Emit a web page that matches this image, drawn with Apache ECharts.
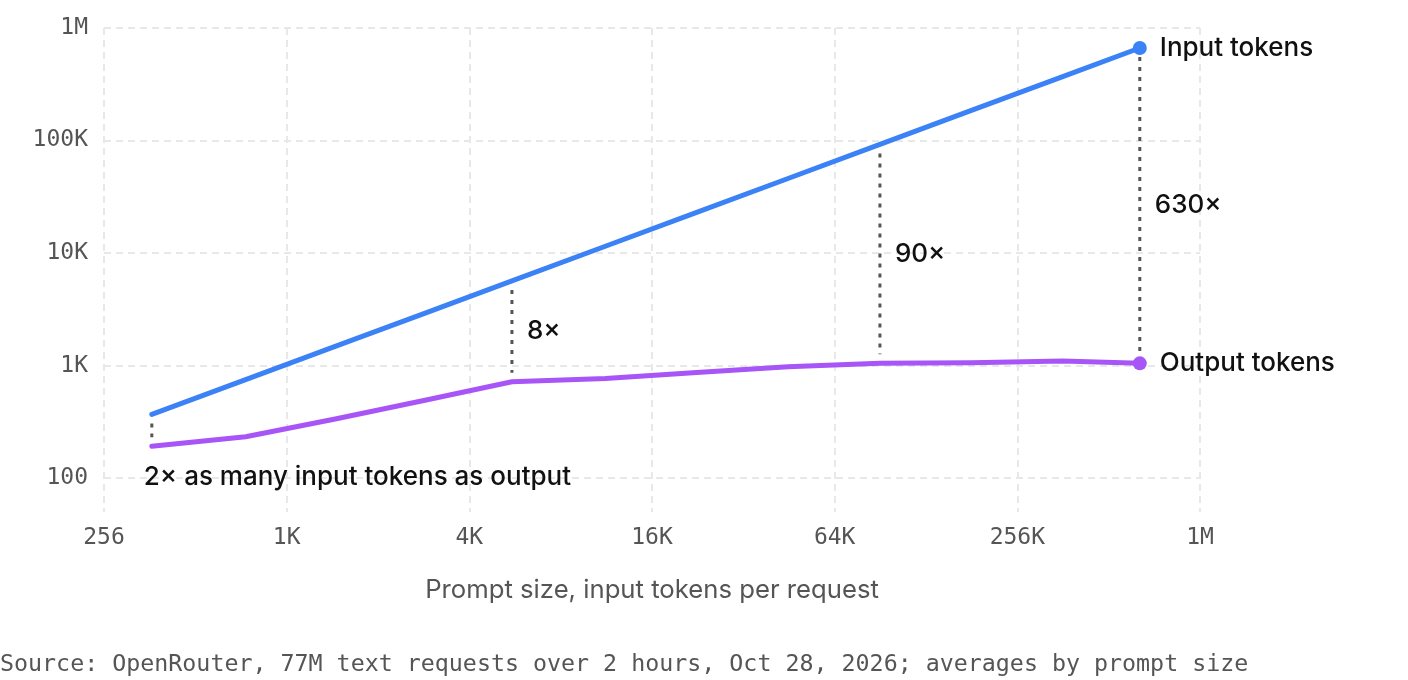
<!DOCTYPE html>
<html>
<head>
<meta charset="utf-8">
<script src="https://cdn.jsdelivr.net/npm/echarts@6/dist/echarts.min.js"></script>
<style>
  html, body { margin: 0; padding: 0; background: #fff; }
  #chart { width: 1408px; height: 680px; }
</style>
</head>
<body>
<div id="chart"></div>
<script>
// average prompt size per bin (x) and average tokens per request (y)
const promptSize = [368, 750, 1480, 2900, 5660, 11500, 23000, 46000, 92400, 185000, 370000, 664000]
const inputTokens = [368, 750, 1480, 2900, 5660, 11500, 23000, 46000, 92400, 185000, 370000, 664000]
const outputTokens = [192, 233, 335, 490, 718, 769, 869, 975, 1047, 1062, 1097, 1047]
const seriesNames = ['Input tokens', 'Output tokens']

// ratio call-outs, placed at these prompt sizes
const annoAt = [368, 5660, 92400, 664000]
const annoText = ['2× as many input tokens as output', '8×', '90×', '630×']

const xLabelName = 'Prompt size, input tokens per request'
const sourceText = 'Source: OpenRouter, 77M text requests over 2 hours, Oct 28, 2026; averages by prompt size'

const MONO = '"DejaVu Sans Mono", "Liberation Mono", monospace'
const SANS = 'Inter, "Noto Sans", sans-serif'
const BLUE = '#3b82f6'
const PURPLE = '#a855f7'
const last = promptSize.length - 1

const fmtBinary = (v) => {
  if (v >= 1048576) return Math.round(v / 1048576) + 'M'
  if (v >= 1024) return Math.round(v / 1024) + 'K'
  return String(Math.round(v))
}
const fmtDecimal = (v) => {
  if (v < 99) return ''
  if (v >= 999999) return Math.round(v / 1e6) + 'M'
  if (v >= 999) return Math.round(v / 1e3) + 'K'
  return String(Math.round(v))
}

const gridLine = { color: '#e8e8e8', width: 2, type: [7, 5] }

function lineSeries(name, values, color) {
  return {
    type: 'line',
    name,
    data: promptSize.map((x, i) => [x, values[i]]),
    symbol: 'circle',
    showSymbol: true,
    symbolSize: (v, p) => (p.dataIndex === last ? 14 : 0),
    lineStyle: { color, width: 5, cap: 'round', join: 'round' },
    itemStyle: { color },
    label: {
      show: true,
      position: 'right',
      distance: 13,
      formatter: (p) => (p.dataIndex === last ? p.seriesName : ''),
      fontFamily: SANS,
      fontSize: 26,
      fontWeight: 500,
      color: '#111',
    },
    silent: true,
    z: 3,
  }
}

// dotted connector between the two lines, with its ratio text
function renderConnector(params, api) {
  const x = api.value(0)
  const top = api.coord([x, api.value(1)])
  const bot = api.coord([x, api.value(2)])
  const gap = 9
  const y1 = top[1] + gap
  const y2 = bot[1] - gap
  const first = params.dataIndex === 0
  return {
    type: 'group',
    children: [
      {
        type: 'line',
        shape: { x1: top[0], y1, x2: top[0], y2 },
        style: { stroke: '#555', lineWidth: 3, lineDash: [4, 6] },
      },
      {
        type: 'text',
        x: first ? top[0] - 8 : top[0] + 15,
        y: first ? bot[1] + 31 : (y1 + y2) / 2,
        style: {
          text: annoText[params.dataIndex],
          font: '500 26px ' + SANS,
          fill: '#111',
          textAlign: 'left',
          textVerticalAlign: 'middle',
        },
      },
    ],
  }
}

const chart = echarts.init(document.getElementById('chart'))

chart.setOption({
  animation: false,
  backgroundColor: '#fff',
  title: {
    text: sourceText,
    left: 0,
    top: 653,
    padding: 0,
    textStyle: { fontFamily: MONO, fontSize: 23.3, fontWeight: 'normal', color: '#555' },
  },
  grid: { left: 104, right: 208, top: 28, bottom: 168 },
  xAxis: {
    type: 'log',
    logBase: 4,
    min: 256,
    max: 1048576,
    axisLine: { show: false },
    axisTick: { show: false },
    axisLabel: { margin: 15, fontFamily: MONO, fontSize: 23, color: '#555', formatter: fmtBinary },
    splitLine: { show: true, lineStyle: gridLine },
    name: xLabelName,
    nameLocation: 'middle',
    nameGap: 65,
    nameTextStyle: { fontFamily: SANS, fontSize: 25.7, color: '#555' },
  },
  yAxis: {
    type: 'log',
    logBase: 10,
    min: 50,
    max: 1000000,
    axisLine: { show: false },
    axisTick: { show: false },
    axisLabel: { margin: 16, fontFamily: MONO, fontSize: 23, color: '#555', formatter: fmtDecimal, showMinLabel: false },
    splitLine: { show: true, showMinLine: false, lineStyle: gridLine },
  },
  series: [
    lineSeries(seriesNames[0], inputTokens, BLUE),
    lineSeries(seriesNames[1], outputTokens, PURPLE),
    {
      type: 'custom',
      renderItem: renderConnector,
      data: annoAt.map((x) => {
        const i = promptSize.indexOf(x)
        return [x, inputTokens[i], outputTokens[i]]
      }),
      encode: { x: 0, y: [1, 2] },
      silent: true,
      z: 2,
    },
  ],
})
</script>
</body>
</html>
